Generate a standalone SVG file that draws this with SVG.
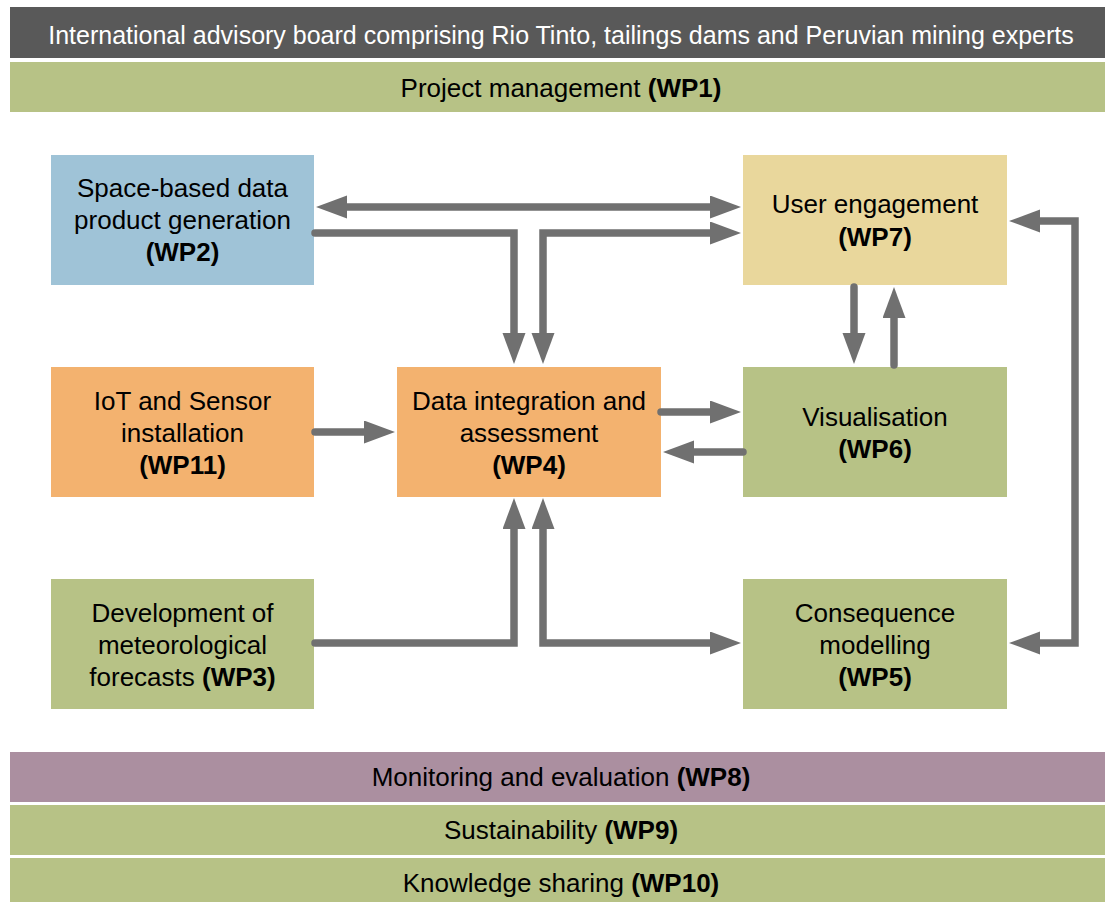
<svg xmlns="http://www.w3.org/2000/svg" width="1105" height="902" viewBox="0 0 1105 902">
<style>
text{font-family:"Liberation Sans",Arial,sans-serif;font-size:26px;fill:#000;text-anchor:middle}
.b{font-weight:bold}
.hdr{fill:#fff;font-size:25px}
.conn{fill:none;stroke:#707070;stroke-width:7.5;stroke-linecap:round;stroke-linejoin:miter}
.blue{fill:#9FC3D7}.yel{fill:#E9D79C}.org{fill:#F3B26F}.grn{fill:#B7C286}.pur{fill:#AB8FA0}.dk{fill:#595959}
</style>
<defs>
<marker id="ah" markerUnits="userSpaceOnUse" markerWidth="32" markerHeight="24" refX="1" refY="11.5" orient="auto-start-reverse" viewBox="0 0 32 24">
<path d="M0,0 L31,11.5 L0,23 z" fill="#707070"/>
</marker>
</defs>
<rect width="1105" height="902" fill="#fff"/>
<g id="advisory"><rect class="dk" x="10" y="7" width="1095" height="51"/><text class="hdr" x="561" y="44">International advisory board comprising Rio Tinto, tailings dams and Peruvian mining experts</text></g>
<g id="wp1"><rect class="grn" x="10" y="62" width="1095" height="50"/><text x="561" y="97">Project management <tspan class="b">(WP1)</tspan></text></g>
<g id="wp2"><rect class="blue" x="51" y="155" width="263" height="130"/><text x="182.5" y="197">Space-based data</text><text x="182.5" y="229">product generation</text><text class="b" x="182.5" y="261">(WP2)</text></g>
<g id="wp7"><rect class="yel" x="743" y="155" width="264" height="130"/><text x="875" y="213">User engagement</text><text class="b" x="875" y="246">(WP7)</text></g>
<g id="wp11"><rect class="org" x="51" y="367" width="263" height="130"/><text x="182.5" y="410">IoT and Sensor</text><text x="182.5" y="442">installation</text><text class="b" x="182.5" y="474">(WP11)</text></g>
<g id="wp4"><rect class="org" x="397" y="367" width="264" height="130"/><text x="529" y="410">Data integration and</text><text x="529" y="442">assessment</text><text class="b" x="529" y="474">(WP4)</text></g>
<g id="wp6"><rect class="grn" x="743" y="367" width="264" height="130"/><text x="875" y="426">Visualisation</text><text class="b" x="875" y="458">(WP6)</text></g>
<g id="wp3"><rect class="grn" x="51" y="579" width="263" height="130"/><text x="182.5" y="622">Development of</text><text x="182.5" y="654">meteorological</text><text x="182.5" y="686">forecasts <tspan class="b">(WP3)</tspan></text></g>
<g id="wp5"><rect class="grn" x="743" y="579" width="264" height="130"/><text x="875" y="622">Consequence</text><text x="875" y="654">modelling</text><text class="b" x="875" y="686">(WP5)</text></g>
<g id="wp8"><rect class="pur" x="10" y="752" width="1095" height="50"/><text x="561" y="786">Monitoring and evaluation <tspan class="b">(WP8)</tspan></text></g>
<g id="wp9"><rect class="grn" x="10" y="805" width="1095" height="50"/><text x="561" y="839">Sustainability <tspan class="b">(WP9)</tspan></text></g>
<g id="wp10"><rect class="grn" x="10" y="858" width="1095" height="44"/><text x="561" y="892">Knowledge sharing <tspan class="b">(WP10)</tspan></text></g>
<g id="connectors">
<path class="conn" d="M346,207 H711" marker-start="url(#ah)" marker-end="url(#ah)"/>
<path class="conn" d="M315,233 H514 V334" marker-end="url(#ah)"/>
<path class="conn" d="M543,334 V233 H711" marker-start="url(#ah)" marker-end="url(#ah)"/>
<path class="conn" d="M315,432 H365" marker-end="url(#ah)"/>
<path class="conn" d="M661,412 H711" marker-end="url(#ah)"/>
<path class="conn" d="M743,452 H693" marker-end="url(#ah)"/>
<path class="conn" d="M854,287 V334" marker-end="url(#ah)"/>
<path class="conn" d="M894,365 V317" marker-end="url(#ah)"/>
<path class="conn" d="M315,643 H514 V528" marker-end="url(#ah)"/>
<path class="conn" d="M543,528 V643 H711" marker-start="url(#ah)" marker-end="url(#ah)"/>
<path class="conn" d="M1039,221 H1075 V643 H1039" marker-start="url(#ah)" marker-end="url(#ah)"/>
</g>
</svg>
